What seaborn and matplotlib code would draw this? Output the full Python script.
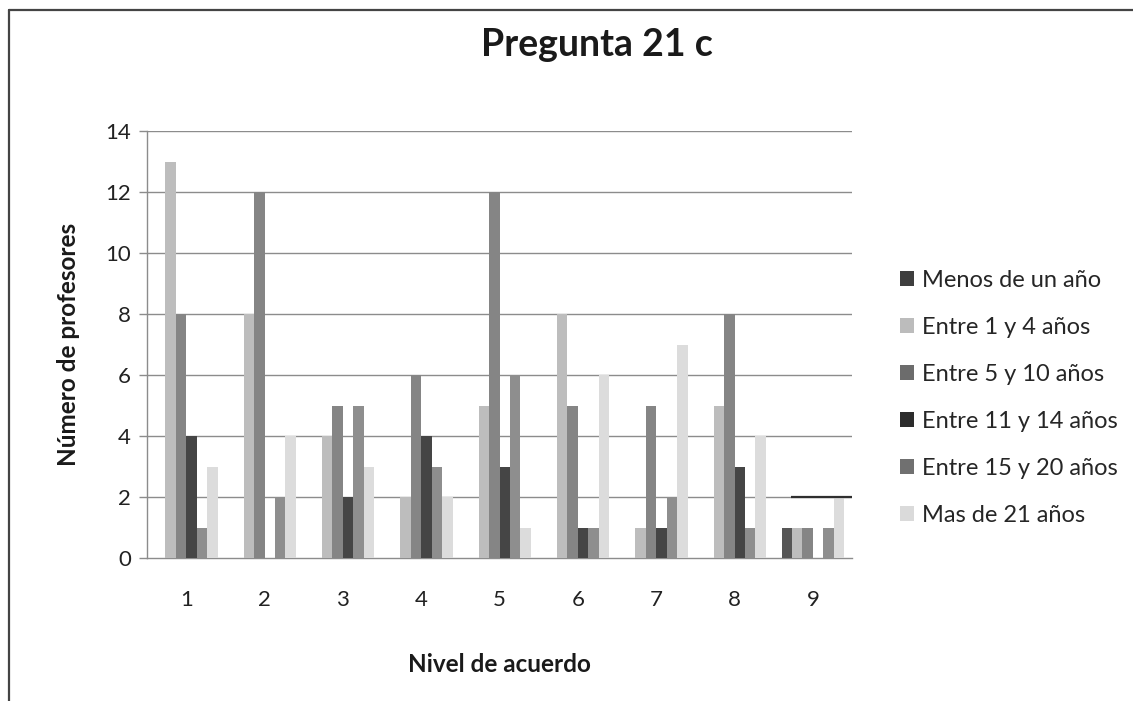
import matplotlib
matplotlib.use("Agg")
import matplotlib.pyplot as plt
from matplotlib.lines import Line2D
from matplotlib.patches import Patch
import pandas as pd
import seaborn as sns

# Survey counts per agreement level, one list per teaching-experience group
niveles = ["1", "2", "3", "4", "5", "6", "7", "8", "9"]
series = ["Menos de un año", "Entre 1 y 4 años", "Entre 5 y 10 años",
          "Entre 11 y 14 años", "Entre 15 y 20 años", "Mas de 21 años"]
menos_de_un_ano = [0, 0, 0, 0, 0, 0, 0, 0, 1]
entre_1_y_4 = [13, 8, 4, 2, 5, 8, 1, 5, 1]
entre_5_y_10 = [8, 12, 5, 6, 12, 5, 5, 8, 1]
entre_11_y_14 = [4, 0, 2, 4, 3, 1, 1, 3, 0]
entre_15_y_20 = [1, 2, 5, 3, 6, 1, 2, 1, 1]
mas_de_21 = [3, 4, 3, 2, 1, 6, 7, 4, 2]
y_ticks = [0, 2, 4, 6, 8, 10, 12, 14]

colores = ["#565656", "#bdbdbd", "#858585", "#454545", "#8e8e8e", "#dcdcdc"]
colores_leyenda = ["#3e3e3e", "#bcbcbc", "#6c6c6c", "#2c2c2c", "#707070", "#dadada"]

valores = [menos_de_un_ano, entre_1_y_4, entre_5_y_10,
           entre_11_y_14, entre_15_y_20, mas_de_21]
df = pd.DataFrame([
    {"Nivel": n, "Serie": s, "Valor": v}
    for s, vals in zip(series, valores)
    for n, v in zip(niveles, vals)
])

sns.set_theme(style="white")
plt.rcParams["font.family"] = ["Lato", "DejaVu Sans"]

fig = plt.figure(figsize=(11.33, 7.01), dpi=100)
ax = fig.add_axes([147 / 1133, 1 - 558 / 701, (852 - 147) / 1133, (558 - 131) / 701])

sns.barplot(data=df, x="Nivel", y="Valor", hue="Serie", order=niveles,
            hue_order=series, palette=colores, width=0.8, saturation=1,
            edgecolor="none", linewidth=0, legend=False, ax=ax, zorder=3)

ax.set_ylim(0, 14)
ax.set_xlim(-0.5, len(niveles) - 0.5)
ax.set_yticks(y_ticks)
ax.set_yticklabels([str(t) for t in y_ticks])
for t in y_ticks[1:]:
    ax.axhline(t, color="#8c8c8c", lw=1.0, zorder=1)
# darker stroke across the last category at level 2
ax.hlines(2, 7.72, 8.5, color="#2f2f2f", lw=1.6, zorder=4)

for side in ["top", "right"]:
    ax.spines[side].set_visible(False)
for side in ["left", "bottom"]:
    ax.spines[side].set_color("#8c8c8c")
    ax.spines[side].set_linewidth(1.0)
ax.tick_params(axis="both", labelsize=16, colors="#222222")
ax.tick_params(axis="x", length=0, pad=23)
ax.tick_params(axis="y", length=5.5, width=1.0, color="#8c8c8c",
               direction="out", pad=6, left=True)

ax.set_xlabel("Nivel de acuerdo", fontsize=17.5, fontweight="bold",
              color="#1a1a1a", labelpad=31)
ax.set_ylabel("Número de profesores", fontsize=17.5, fontweight="bold",
              color="#1a1a1a", labelpad=18)

fig.text(597 / 1133, 1 - 45 / 701, "Pregunta 21 c", ha="center", va="center",
         fontsize=27, fontweight="bold", color="#1a1a1a")

handles = [Patch(facecolor=c, edgecolor="none") for c in colores_leyenda]
fig.legend(handles, series, loc="upper left",
           bbox_to_anchor=(888 / 1133, 1 - 258 / 701), frameon=False,
           fontsize=17, handlelength=0.6, handleheight=0.6,
           handletextpad=0.35, labelspacing=1.1, borderpad=0)

# outer chart frame (left and top edges)
fig.add_artist(Line2D([9 / 1133, 9 / 1133], [0, 1 - 10 / 701],
                      transform=fig.transFigure, color="#444444", lw=1.6))
fig.add_artist(Line2D([9 / 1133, 1], [1 - 10 / 701, 1 - 10 / 701],
                      transform=fig.transFigure, color="#444444", lw=1.6))

fig.savefig("out.png", dpi=100, facecolor="white")
